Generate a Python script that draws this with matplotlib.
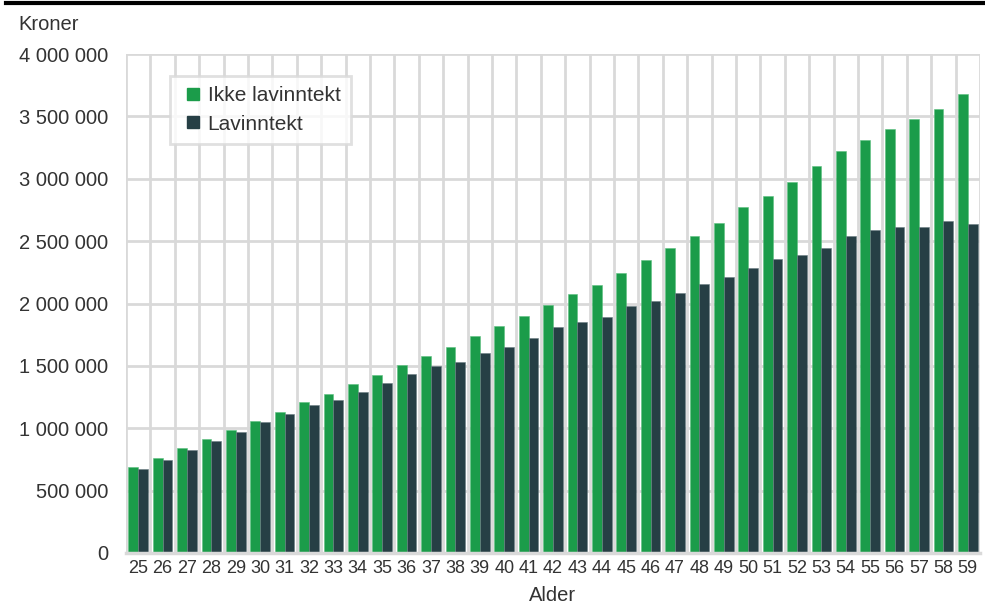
import matplotlib
matplotlib.use("Agg")
import matplotlib.pyplot as plt
import numpy as np
from matplotlib.lines import Line2D
from matplotlib.ticker import FuncFormatter

ages = list(range(25, 60))
ikke_lavinntekt = [686, 765, 840, 912, 984, 1062, 1131, 1211, 1273, 1353,
                   1425, 1508, 1581, 1654, 1737, 1817, 1897, 1985, 2073, 2151,
                   2242, 2346, 2447, 2543, 2643, 2771, 2862, 2977, 3100, 3223,
                   3308, 3399, 3477, 3557, 3677]
lavinntekt = [673, 749, 824, 898, 966, 1051, 1118, 1190, 1230, 1291,
              1364, 1431, 1502, 1528, 1600, 1654, 1721, 1809, 1849, 1889,
              1977, 2018, 2082, 2156, 2210, 2282, 2354, 2389, 2445, 2539,
              2589, 2611, 2613, 2664, 2637]
ikke_lavinntekt = [v * 1000 for v in ikke_lavinntekt]
lavinntekt = [v * 1000 for v in lavinntekt]
series_names = ["Ikke lavinntekt", "Lavinntekt"]
yticks = [0, 500000, 1000000, 1500000, 2000000, 2500000, 3000000, 3500000, 4000000]

GREEN = "#1b9c4a"
DARK = "#263f45"
GRID = "#d9d9d9"
TXT = "#333333"

plt.rcParams['font.family'] = ['Liberation Sans', 'DejaVu Sans']

fig = plt.figure(figsize=(9.85, 6.05), dpi=100)
ax = fig.add_axes([126 / 985, 1 - 553 / 605, (980 - 126) / 985, (553 - 54) / 605])

x = np.arange(len(ages))
w = 0.405
ax.bar(x - w / 2, ikke_lavinntekt, width=w, color=GREEN, edgecolor="#5cc07f",
       linewidth=0.4, zorder=3, label=series_names[0])
ax.bar(x + w / 2, lavinntekt, width=w, color=DARK, edgecolor="#6b7f84",
       linewidth=0.4, zorder=3, label=series_names[1])

ax.set_xlim(-0.5, len(ages) - 0.5)
ax.set_ylim(0, 4000000)
ax.set_yticks(yticks)
ax.yaxis.set_major_formatter(FuncFormatter(lambda v, p: f"{int(v):,}".replace(",", " ")))
ax.set_xticks(x)
ax.set_xticklabels([str(a) for a in ages])
ax.set_xticks(np.arange(-0.5, len(ages), 1), minor=True)

ax.grid(axis="y", which="major", color=GRID, linewidth=2, zorder=0)
ax.grid(axis="x", which="minor", color=GRID, linewidth=2, zorder=0)
ax.grid(axis="x", which="major", visible=False)

for s in ["top", "right", "left"]:
    ax.spines[s].set_visible(False)
ax.spines["bottom"].set_color(GRID)
ax.spines["bottom"].set_linewidth(2.5)
ax.spines["bottom"].set_zorder(4)

ax.tick_params(axis="y", which="both", length=0, labelsize=14.5, colors=TXT, pad=13)
ax.tick_params(axis="x", which="both", length=0, labelsize=13, colors=TXT, pad=5)

ax.set_xlabel("Alder", fontsize=14.5, color=TXT, labelpad=6.5)

fig.text(18 / 985, 1 - 25 / 605, "Kroner", fontsize=14.5, color=TXT, va="center", ha="left")

handles = [Line2D([], [], marker="s", linestyle="none", markersize=8, color=GREEN),
           Line2D([], [], marker="s", linestyle="none", markersize=8, color=DARK)]
leg = ax.legend(handles, series_names, loc="upper left",
                bbox_to_anchor=((170 - 126) / 854, 1 - (76 - 54) / 499),
                fontsize=15, frameon=True, fancybox=False, handletextpad=0.1,
                handlelength=1.2, borderpad=0.5, labelspacing=0.45,
                labelcolor=TXT, borderaxespad=0)
leg.get_frame().set_edgecolor(GRID)
leg.get_frame().set_linewidth(2)
leg.set_zorder(5)

fig.add_artist(Line2D([6 / 985, 1], [1 - 3.2 / 605, 1 - 3.2 / 605], color="black",
                      linewidth=3, transform=fig.transFigure))

fig.savefig("out.png", dpi=100)
